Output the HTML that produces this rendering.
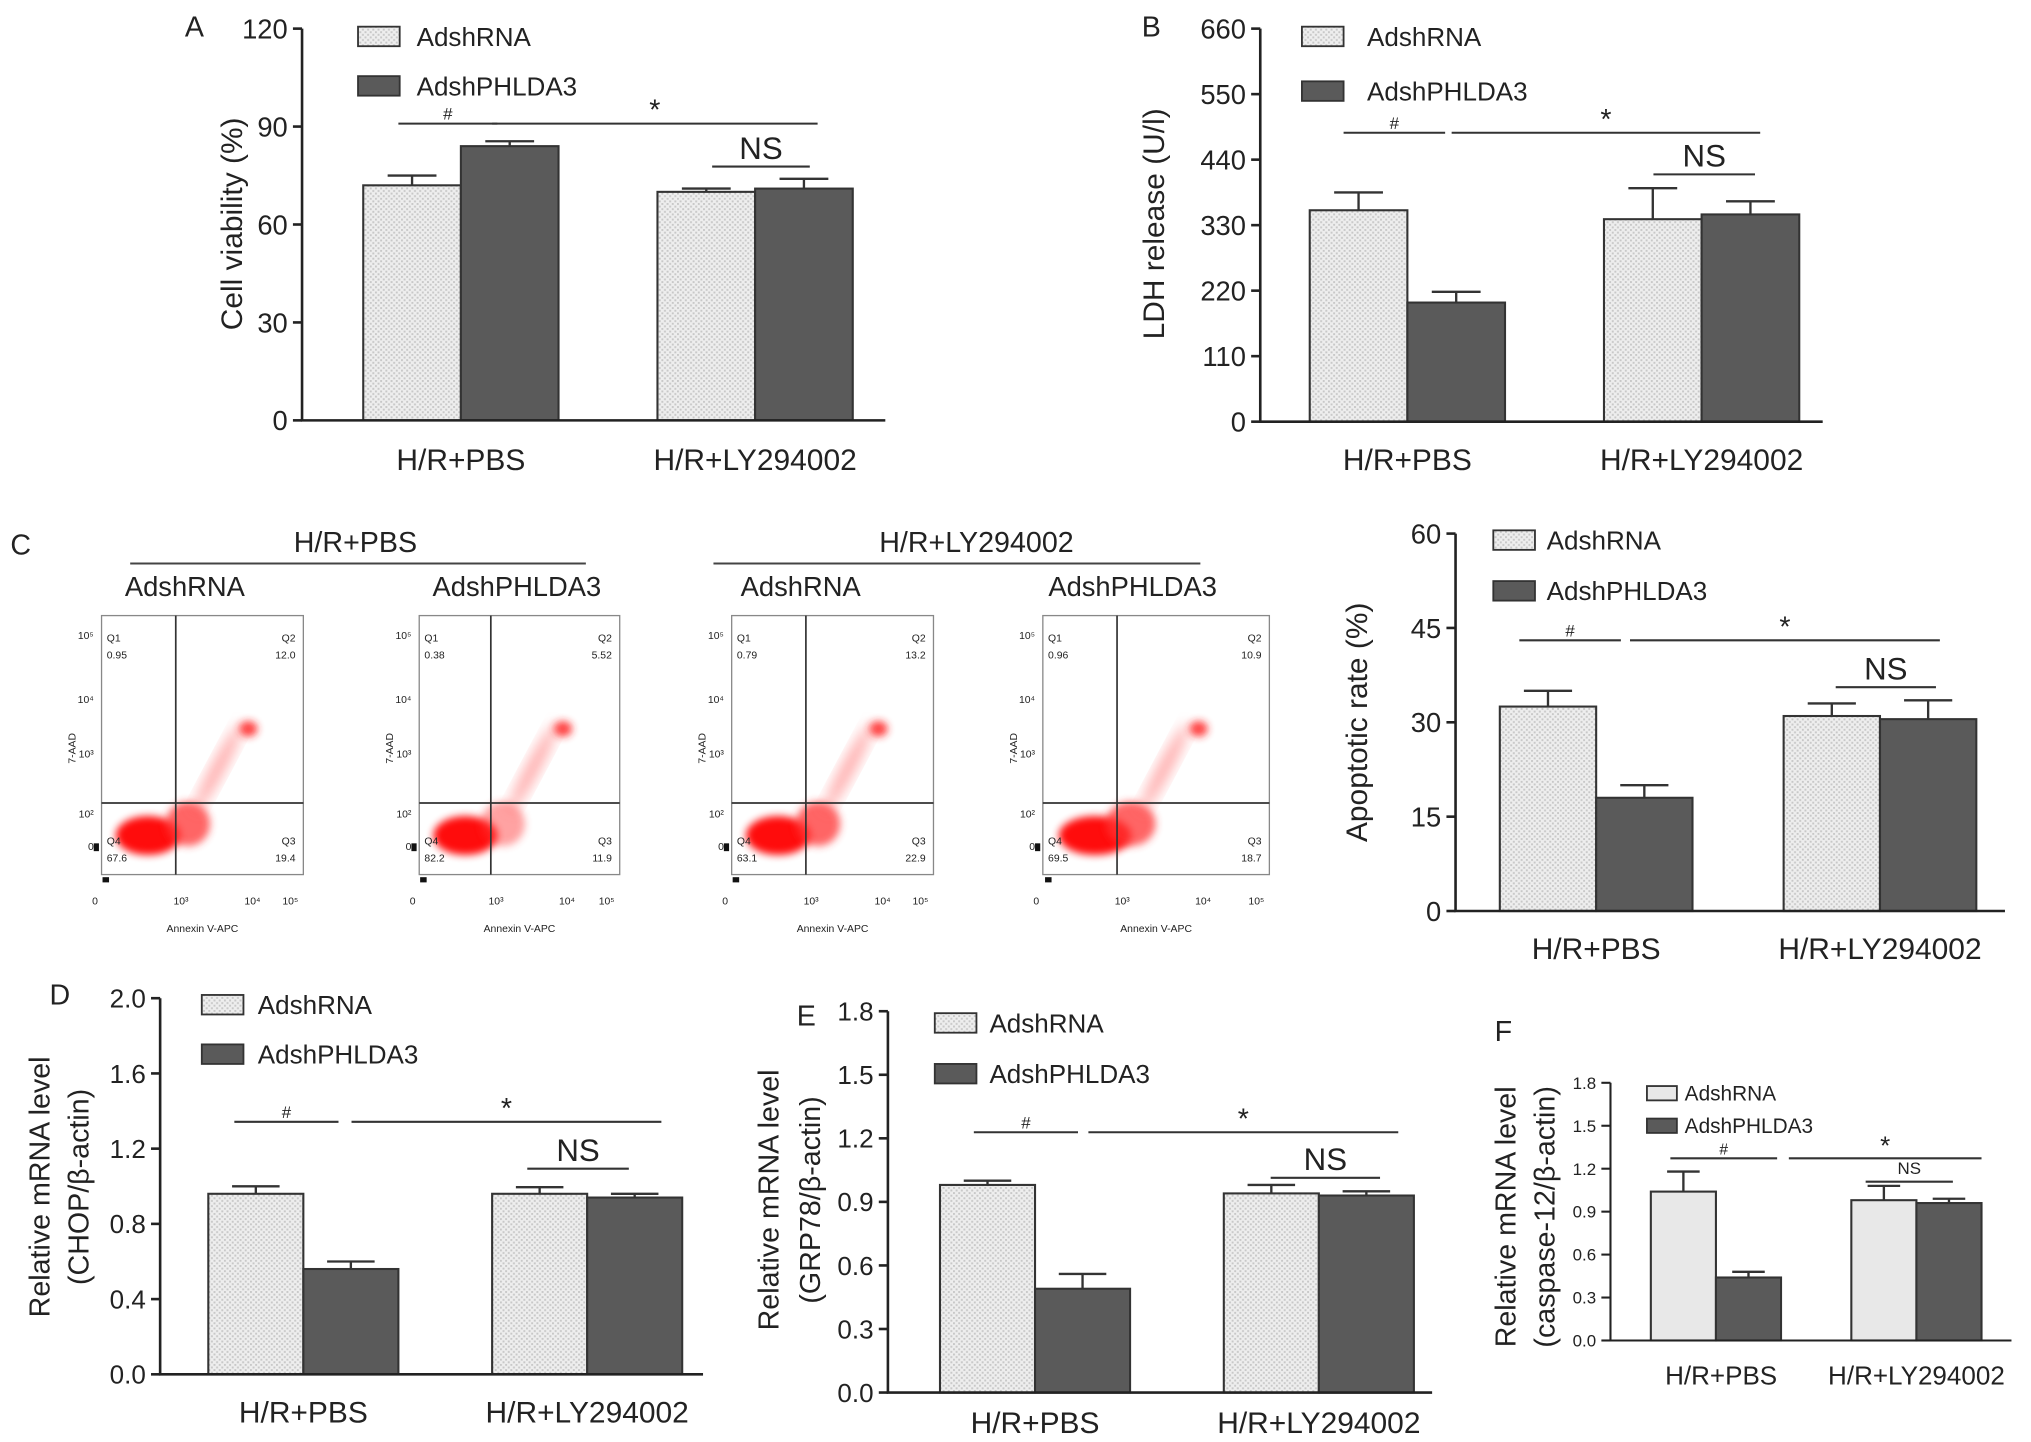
<!DOCTYPE html>
<html><head><meta charset="utf-8"><style>
html,body{margin:0;padding:0;background:#fff}
svg{display:block}
text{font-family:"Liberation Sans",Arial,sans-serif;fill:#222}
</style></head><body>
<svg id="fig" width="2031" height="1442" viewBox="0 0 1560 1108" preserveAspectRatio="none" xmlns="http://www.w3.org/2000/svg">
<defs>
<pattern id="hatch" width="4" height="4" patternUnits="userSpaceOnUse">
<rect width="4" height="4" fill="#eeeeee"/><rect x="0" y="0" width="1.5" height="1.5" fill="#c8c8c8"/><rect x="2" y="2" width="1.5" height="1.5" fill="#c8c8c8"/>
</pattern>
<filter id="blur" x="-50%" y="-50%" width="200%" height="200%"><feGaussianBlur stdDeviation="3"/></filter>
<filter id="blur2" x="-50%" y="-50%" width="200%" height="200%"><feGaussianBlur stdDeviation="5"/></filter>
</defs>
<g id="root"></g>
</svg>
<script>
// ---- Chart data ----
const categories = ["H/R+PBS", "H/R+LY294002"];
const seriesNames = ["AdshRNA", "AdshPHLDA3"];
const aRna = [72, 70];      const aRnaErr = [75, 71];
const aPh = [84, 71];       const aPhErr = [85.5, 74];
const aTicks = [0, 30, 60, 90, 120];
const bRna = [355, 340];    const bRnaErr = [385, 392];
const bPh = [200, 348];     const bPhErr = [218, 370];
const bTicks = [0, 110, 220, 330, 440, 550, 660];
const cRna = [32.5, 31];    const cRnaErr = [35, 33];
const cPh = [18, 30.5];     const cPhErr = [20, 33.5];
const cTicks = [0, 15, 30, 45, 60];
const dRna = [0.96, 0.96];  const dRnaErr = [1.0, 0.995];
const dPh = [0.56, 0.94];   const dPhErr = [0.6, 0.96];
const dTicks = ["0.0", "0.4", "0.8", "1.2", "1.6", "2.0"];
const eRna = [0.98, 0.94];  const eRnaErr = [1.0, 0.98];
const ePh = [0.49, 0.93];   const ePhErr = [0.56, 0.95];
const eTicks = ["0.0", "0.3", "0.6", "0.9", "1.2", "1.5", "1.8"];
const fRna = [1.04, 0.98];  const fRnaErr = [1.18, 1.08];
const fPh = [0.44, 0.96];   const fPhErr = [0.48, 0.99];
const fTicks = ["0.0", "0.3", "0.6", "0.9", "1.2", "1.5", "1.8"];
const flowQ1 = ["0.95", "0.38", "0.79", "0.96"];
const flowQ2 = ["12.0", "5.52", "13.2", "10.9"];
const flowQ3 = ["19.4", "11.9", "22.9", "18.7"];
const flowQ4 = ["67.6", "82.2", "63.1", "69.5"];

const NS = "http://www.w3.org/2000/svg";
const root = document.getElementById('root');
function el(tag, attrs, parent, txt) {
  const e = document.createElementNS(NS, tag);
  for (const k in attrs) e.setAttribute(k, attrs[k]);
  if (txt !== undefined) e.textContent = txt;
  (parent || root).appendChild(e);
  return e;
}

function barChart(cfg) {
  const g = el('g', {});
  
  
  const tv = cfg.ticks.map(Number);
  const max = tv[tv.length - 1];
  const y = v => cfg.y0 - (v / max) * (cfg.y0 - cfg.yTop);
  const sw = cfg.sw || 2;
  for (let i = 0; i < 2; i++) {
    const gx = cfg.groupX[i];
    const series = [[cfg.rna, cfg.rnaErr, cfg.light], [cfg.ph, cfg.phErr, '#5a5a5a']];
    series.forEach((s, j) => {
      const x = gx + j * cfg.bw;
      const r = el('rect', {x: x, y: y(s[0][i]), width: cfg.bw, height: cfg.y0 - y(s[0][i]), fill: s[2], stroke: '#333', 'stroke-width': 1.6}, g);
      
      
      const cx = x + cfg.bw / 2, ew = cfg.bw * 0.25;
      const e1 = el('path', {d: `M${cx},${y(s[0][i])}V${y(s[1][i])}M${cx - ew},${y(s[1][i])}H${cx + ew}`, stroke: '#333', 'stroke-width': 1.8, fill: 'none'}, g);
      
      
    });
    const t = el('text', {x: cfg.catX ? cfg.catX[i] : gx + cfg.bw, y: cfg.catY, 'font-size': cfg.catFs, 'text-anchor': 'middle'}, g, categories[i]);
    
    
  }
  const ax = el('path', {d: `M${cfg.x0},${cfg.yTop}V${cfg.y0}H${cfg.xEnd}`, stroke: '#222', 'stroke-width': sw, fill: 'none'}, g);
  
  
  cfg.ticks.forEach(tk => {
    const yy = y(Number(tk));
    el('line', {x1: cfg.x0 - 7, x2: cfg.x0, y1: yy, y2: yy, stroke: '#222', 'stroke-width': sw}, g);
    const t = el('text', {x: cfg.x0 - 11, y: yy + cfg.tickFs * 0.36, 'font-size': cfg.tickFs, 'text-anchor': 'end'}, g, tk);
    
    
  });
  cfg.title.forEach((line, k) => {
    const tx = cfg.titleX[k];
    const t = el('text', {x: tx, y: cfg.titleY, 'font-size': cfg.titleFs, 'text-anchor': 'middle', transform: `rotate(-90 ${tx} ${cfg.titleY})`}, g, line);
    
    
  });
  [[cfg.light, cfg.legY[0], seriesNames[0]], ['#5a5a5a', cfg.legY[1], seriesNames[1]]].forEach(l => {
    const lg = el('g', {}, g);
    
    
    el('rect', {x: cfg.legX, y: l[1] - cfg.legH / 2, width: cfg.legW, height: cfg.legH, fill: l[0], stroke: '#333', 'stroke-width': 1.4}, lg);
    el('text', {x: cfg.legTx, y: l[1] + cfg.legFs * 0.36, 'font-size': cfg.legFs}, lg, l[2]);
  });
  cfg.sig.forEach(s => {
    el('line', {x1: s[0], x2: s[1], y1: s[2], y2: s[2], stroke: '#333', 'stroke-width': 1.6}, g);
    const t = el('text', {x: (s[0] + s[1]) / 2, y: s[2] - (s[3] === 'NS' ? 6 : 3), 'font-size': s[4], 'text-anchor': 'middle'}, g, s[3]);
    
    
  });
  const L = el('text', {x: cfg.letter[0], y: cfg.letter[1], 'font-size': 22}, g, cfg.letter[2]);
  
  
}

const H = 'url(#hatch)';
barChart({name:'chart-a-cell-viability', ticks:aTicks, rna:aRna, rnaErr:aRnaErr, ph:aPh, phErr:aPhErr, light:H,
  x0:232, y0:323, yTop:22, xEnd:680, groupX:[279,505], bw:75, catY:361, catFs:23, tickFs:21,
  title:['Cell viability (%)'], titleX:[186], titleY:172, titleFs:23,
  legX:275, legY:[28,66], legW:32, legH:15, legTx:320, legFs:20,
  sig:[[306,382,95,'#',13],[378,628,95,'*',22],[547,622,128,'NS',24]], letter:[142,28,'A']});
barChart({name:'chart-b-ldh-release', ticks:bTicks, rna:bRna, rnaErr:bRnaErr, ph:bPh, phErr:bPhErr, light:H,
  x0:968, y0:324, yTop:22, xEnd:1400, groupX:[1006,1232], bw:75, catY:361, catFs:23, tickFs:21,
  title:['LDH release (U/l)'], titleX:[894], titleY:172, titleFs:23,
  legX:1000, legY:[28,70], legW:32, legH:15, legTx:1050, legFs:20,
  sig:[[1032,1110,102,'#',13],[1115,1352,102,'*',22],[1270,1348,134,'NS',24]], letter:[877,28,'B']});
barChart({name:'chart-c-apoptotic-rate', ticks:cTicks, rna:cRna, rnaErr:cRnaErr, ph:cPh, phErr:cPhErr, light:H,
  x0:1118, y0:700, yTop:410, xEnd:1540, groupX:[1152,1370], bw:74, catY:737, catFs:23, tickFs:21,
  title:['Apoptotic rate (%)'], titleX:[1050], titleY:555, titleFs:23,
  legX:1147, legY:[415,454], legW:32, legH:15, legTx:1188, legFs:20,
  sig:[[1167,1245,492,'#',13],[1252,1490,492,'*',22],[1410,1487,528,'NS',24]], letter:[-100,-100,'']});
barChart({name:'chart-d-chop', ticks:dTicks, rna:dRna, rnaErr:dRnaErr, ph:dPh, phErr:dPhErr, light:H,
  x0:123, y0:1056, yTop:767, xEnd:540, groupX:[160,378], bw:73, catY:1093, catFs:23, tickFs:20,
  title:['Relative mRNA level','(CHOP/β-actin)'], titleX:[38,68], titleY:912, titleFs:22,
  legX:155, legY:[772,810], legW:32, legH:15, legTx:198, legFs:20,
  sig:[[180,260,862,'#',13],[270,508,862,'*',22],[405,483,898,'NS',24]], letter:[38,772,'D']});
barChart({name:'chart-e-grp78', ticks:eTicks, rna:eRna, rnaErr:eRnaErr, ph:ePh, phErr:ePhErr, light:H,
  x0:682, y0:1070, yTop:777, xEnd:1100, groupX:[722,940], bw:73, catY:1101, catFs:23, tickFs:20,
  title:['Relative mRNA level','(GRP78/β-actin)'], titleX:[598,630], titleY:922, titleFs:22,
  legX:718, legY:[786,825], legW:32, legH:15, legTx:760, legFs:20,
  sig:[[748,828,870,'#',13],[836,1074,870,'*',22],[976,1060,905,'NS',24]], letter:[612,788,'E']});
barChart({name:'chart-f-caspase12', ticks:fTicks, rna:fRna, rnaErr:fRnaErr, ph:fPh, phErr:fPhErr, light:'#e8e8e8', sw:1.6,
  x0:1237, y0:1030, yTop:832, xEnd:1545, groupX:[1268,1422], bw:50, catX:[1322,1472], catY:1064, catFs:20, tickFs:13,
  title:['Relative mRNA level','(caspase-12/β-actin)'], titleX:[1164,1194], titleY:935, titleFs:22,
  legX:1265, legY:[840,865], legW:23, legH:11, legTx:1294, legFs:16,
  sig:[[1283,1365,890,'#',12],[1374,1522,890,'*',20],[1433,1500,908,'NS',13]], letter:[1148,800,'F']});

// ---- Flow cytometry panels ----
const flowBoxes = [[78,233,135],[322,476,377],[562,717,619],[801,975,858]];
const fg = el('g', {});


el('text', {x: 8, y: 426, 'font-size': 22}, fg, 'C');
[[273,100,450,'H/R+PBS'],[750,548,922,'H/R+LY294002']].forEach(h => {
  const t = el('text', {x: h[0], y: 424, 'font-size': 22, 'text-anchor': 'middle'}, fg, h[3]);
  
  
  el('line', {x1: h[1], x2: h[2], y1: 433, y2: 433, stroke: '#444', 'stroke-width': 1.5}, fg);
});
[[142,'AdshRNA'],[397,'AdshPHLDA3'],[615,'AdshRNA'],[870,'AdshPHLDA3']].forEach(a => {
  const t = el('text', {x: a[0], y: 458, 'font-size': 21, 'text-anchor': 'middle'}, fg, a[1]);
  
  
});
flowBoxes.forEach((b, i) => {
  const p = el('g', {}, fg);
  
  
  const x0 = b[0], x1 = b[1], vx = b[2], y0 = 473, y1 = 672, hy = 617;
  const w = x1 - x0;
  el('ellipse', {cx: x0 + w * 0.23, cy: 642, rx: w * 0.16, ry: 15, fill: '#ff0000', filter: 'url(#blur)', opacity: 0.95}, p);
  el('ellipse', {cx: vx + w * 0.06, cy: 633, rx: w * 0.11, ry: 17, fill: '#ff3030', filter: 'url(#blur)', opacity: (i == 1 ? 0.45 : 0.75)}, p);
  el('ellipse', {cx: vx + w * 0.21, cy: 590, rx: 5, ry: 38, fill: '#ff6060', filter: 'url(#blur2)', opacity: 0.55, transform: `rotate(28 ${vx + w*0.21} 590)`}, p);
  el('ellipse', {cx: vx + w * 0.36, cy: 560, rx: 7, ry: 6, fill: '#ff2020', filter: 'url(#blur)', opacity: 0.85}, p);
  el('rect', {x: x0, y: y0, width: w, height: y1 - y0, fill: 'none', stroke: '#888', 'stroke-width': 1}, p);
  el('line', {x1: vx, x2: vx, y1: y0, y2: y1, stroke: '#333', 'stroke-width': 1.3}, p);
  el('line', {x1: x0, x2: x1, y1: hy, y2: hy, stroke: '#333', 'stroke-width': 1.3}, p);
  const fs = 8;
  el('text', {x: x0 + 4, y: 493, 'font-size': fs}, p, 'Q1');
  el('text', {x: x0 + 4, y: 506, 'font-size': fs}, p, flowQ1[i]);
  el('text', {x: x1 - 6, y: 493, 'font-size': fs, 'text-anchor': 'end'}, p, 'Q2');
  el('text', {x: x1 - 6, y: 506, 'font-size': fs, 'text-anchor': 'end'}, p, flowQ2[i]);
  el('text', {x: x0 + 4, y: 649, 'font-size': fs}, p, 'Q4');
  el('text', {x: x0 + 4, y: 662, 'font-size': fs}, p, flowQ4[i]);
  el('text', {x: x1 - 6, y: 649, 'font-size': fs, 'text-anchor': 'end'}, p, 'Q3');
  el('text', {x: x1 - 6, y: 662, 'font-size': fs, 'text-anchor': 'end'}, p, flowQ3[i]);
  [['10⁵',491],['10⁴',540],['10³',582],['10²',628],['0',653]].forEach(t => el('text', {x: x0 - 6, y: t[1], 'font-size': 8, 'text-anchor': 'end'}, p, t[0]));
  [['0',x0-5],['10³',vx+4],['10⁴',vx+w*0.38],['10⁵',x1-10]].forEach(t => el('text', {x: t[1], y: 695, 'font-size': 8, 'text-anchor': 'middle'}, p, t[0]));
  el('text', {x: (x0 + x1) / 2, y: 716, 'font-size': 8, 'text-anchor': 'middle'}, p, 'Annexin V-APC');
  el('text', {x: x0 - 20, y: 575, 'font-size': 8, 'text-anchor': 'middle', transform: `rotate(-90 ${x0-20} 575)`}, p, '7-AAD');
  el('rect', {x: x0 - 6, y: 648, width: 4, height: 6, fill: '#111'}, p);
  el('rect', {x: x0 - 7 + w * 0.05, y: 674, width: 5, height: 4, fill: '#111'}, p);
});
</script>
</body></html>
